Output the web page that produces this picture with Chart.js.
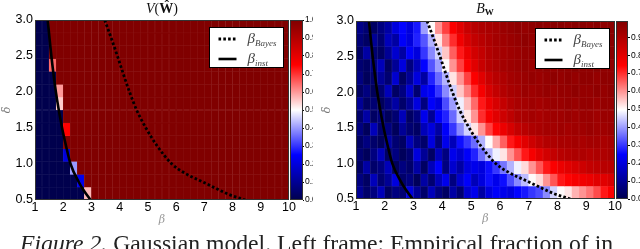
<!DOCTYPE html>
<html><head><meta charset="utf-8">
<script src="https://cdn.jsdelivr.net/npm/chart.js@4.4.1/dist/chart.umd.min.js"></script>
<style>
html,body{margin:0;padding:0;background:#fff;}
#wrap{position:relative;width:640px;height:249px;overflow:hidden;background:#fff;}
canvas{position:absolute;}
.ttl{position:absolute;font-family:'Liberation Serif',serif;font-size:14px;color:#111;white-space:nowrap;transform:translateX(-50%);line-height:16px;}
.ttl sub{font-family:'Liberation Serif',serif;font-weight:bold;font-size:9px;vertical-align:-2px;}
#cap{position:absolute;left:20px;top:231px;font-family:'Liberation Serif',serif;font-size:23.7px;color:#222;white-space:nowrap;line-height:24px;}
</style></head><body><div id="wrap">
<canvas id="mainL" width="300" height="232" style="left:0;top:0;width:300px;height:232px"></canvas>
<canvas id="cbarL" width="24" height="232" style="left:289px;top:0;width:24px;height:232px"></canvas>
<canvas id="mainR" width="305" height="232" style="left:320px;top:0;width:305px;height:232px"></canvas>
<canvas id="cbarR" width="25" height="232" style="left:615px;top:0;width:25px;height:232px"></canvas>
<div class="ttl" style="left:162px;top:1px"><i>V</i>(<b>Ŵ</b>)</div>
<div class="ttl" style="left:485px;top:1px"><i>B</i><sub>W</sub></div>
<div id="cap"><i>Figure 2.</i> Gaussian model. Left frame: Empirical fraction of in</div>
</div>
<script>
// ---- grid (cell edges) ----
const betaEdges = [1,1.25,1.5,1.75,2,2.25,2.5,2.75,3,3.25,3.5,3.75,4,4.25,4.5,4.75,5,5.25,5.5,5.75,6,6.25,6.5,6.75,7,7.25,7.5,7.75,8,8.25,8.5,8.75,9,9.25,9.5,9.75,10];
const deltaEdges = [0.5,0.679,0.857,1.036,1.214,1.393,1.571,1.75,1.929,2.107,2.286,2.464,2.643,2.821,3.0];

// ---- left frame V(W^) : rows listed from delta=3.0 (top) down to delta=0.5 ----
const vRows = [
[0,0,1,1,1,1,1,1,1,1,1,1,1,1,1,1,1,1,1,1,1,1,1,1,1,1,1,1,1,1,1,1,1,1,1,1],
[0,0,1,1,1,1,1,1,1,1,1,1,1,1,1,1,1,1,1,1,1,1,1,1,1,1,1,1,1,1,1,1,1,1,1,1],
[0,0,1,1,1,1,1,1,1,1,1,1,1,1,1,1,1,1,1,1,1,1,1,1,1,1,1,1,1,1,1,1,1,1,1,1],
[0,0,0.65,1,1,1,1,1,1,1,1,1,1,1,1,1,1,1,1,1,1,1,1,1,1,1,1,1,1,1,1,1,1,1,1,1],
[0,0,0,1,1,1,1,1,1,1,1,1,1,1,1,1,1,1,1,1,1,1,1,1,1,1,1,1,1,1,1,1,1,1,1,1],
[0,0,0,0.6,1,1,1,1,1,1,1,1,1,1,1,1,1,1,1,1,1,1,1,1,1,1,1,1,1,1,1,1,1,1,1,1],
[0,0,0,0.55,1,1,1,1,1,1,1,1,1,1,1,1,1,1,1,1,1,1,1,1,1,1,1,1,1,1,1,1,1,1,1,1],
[0,0,0,0,1,1,1,1,1,1,1,1,1,1,1,1,1,1,1,1,1,1,1,1,1,1,1,1,1,1,1,1,1,1,1,1],
[0,0,0,0,0.75,1,1,1,1,1,1,1,1,1,1,1,1,1,1,1,1,1,1,1,1,1,1,1,1,1,1,1,1,1,1,1],
[0,0,0,0,1,1,1,1,1,1,1,1,1,1,1,1,1,1,1,1,1,1,1,1,1,1,1,1,1,1,1,1,1,1,1,1],
[0,0,0,0,0.2,1,1,1,1,1,1,1,1,1,1,1,1,1,1,1,1,1,1,1,1,1,1,1,1,1,1,1,1,1,1,1],
[0,0,0,0,0,0.4,1,1,1,1,1,1,1,1,1,1,1,1,1,1,1,1,1,1,1,1,1,1,1,1,1,1,1,1,1,1],
[0,0,0,0,0,0,0.22,1,1,1,1,1,1,1,1,1,1,1,1,1,1,1,1,1,1,1,1,1,1,1,1,1,1,1,1,1],
[0,0,0,0,0,0,0,0.57,1,1,1,1,1,1,1,1,1,1,1,1,1,1,1,1,1,1,1,1,1,1,1,1,1,1,1,1]
];

// ---- right frame B_W : rows from delta=3.0 (top) down to delta=0.5 ----
const bRows = [
[.08,.05,.03,.07,.12,.2,.25,.2,.27,.4,.5,.6,.68,.75,.8,.85,.88,.9,.91,.92,.94,.95,.96,.95,.96,.97,.96,.97,.97,.96,.97,.97,.96,.97,.96,.97],
[.06,.03,.1,.05,.15,.12,.24,.2,.28,.33,.42,.52,.62,.7,.77,.82,.86,.88,.9,.92,.93,.94,.95,.96,.95,.96,.97,.96,.97,.97,.96,.97,.97,.96,.97,.97],
[.03,.12,.05,.03,.1,.18,.12,.24,.2,.3,.38,.45,.55,.65,.72,.78,.83,.86,.89,.91,.92,.93,.94,.95,.95,.96,.95,.96,.97,.96,.97,.96,.97,.97,.96,.97],
[.05,.03,.07,.15,.03,.1,.2,.07,.15,.25,.33,.4,.5,.6,.68,.75,.8,.85,.88,.9,.92,.93,.94,.95,.94,.95,.96,.95,.96,.96,.97,.96,.96,.97,.96,.96],
[.07,.02,.04,.1,.05,.18,.03,.1,.2,.12,.28,.35,.42,.52,.6,.68,.75,.8,.85,.88,.9,.92,.93,.94,.95,.94,.95,.96,.95,.96,.95,.96,.96,.95,.96,.96],
[.03,.07,.02,.05,.15,.03,.07,.18,.05,.22,.24,.3,.38,.45,.55,.62,.7,.76,.82,.86,.89,.91,.92,.94,.93,.94,.95,.94,.95,.95,.96,.95,.95,.96,.95,.96],
[.1,.03,.05,.02,.07,.12,.04,.1,.2,.07,.24,.2,.32,.4,.48,.56,.64,.72,.78,.82,.86,.89,.91,.92,.93,.92,.93,.94,.94,.95,.94,.95,.95,.94,.95,.95],
[.04,.12,.03,.07,.02,.05,.15,.03,.07,.22,.1,.24,.28,.35,.45,.52,.6,.7,.76,.8,.84,.87,.9,.91,.92,.91,.92,.93,.93,.94,.93,.94,.94,.93,.94,.94],
[.07,.02,.15,.04,.07,.02,.1,.05,.03,.15,.2,.12,.24,.3,.38,.45,.52,.6,.68,.74,.78,.82,.86,.88,.9,.91,.92,.92,.93,.92,.93,.93,.94,.93,.93,.94],
[.03,.07,.04,.02,.12,.05,.03,.15,.07,.04,.2,.07,.22,.15,.26,.3,.35,.42,.5,.58,.65,.72,.76,.8,.84,.87,.89,.9,.91,.91,.92,.91,.92,.92,.91,.92],
[.05,.02,.07,.15,.03,.07,.02,.05,.2,.1,.03,.15,.07,.22,.18,.24,.28,.35,.42,.48,.52,.6,.66,.72,.76,.8,.83,.86,.88,.89,.9,.9,.89,.9,.9,.91],
[.03,.12,.04,.07,.15,.02,.07,.04,.12,.03,.15,.24,.07,.18,.12,.2,.22,.2,.26,.3,.36,.42,.48,.53,.6,.66,.72,.75,.78,.8,.82,.84,.86,.87,.88,.88],
[.07,.03,.15,.05,.1,.2,.04,.07,.02,.12,.05,.15,.22,.07,.18,.24,.15,.2,.26,.22,.26,.32,.38,.43,.5,.53,.6,.66,.72,.74,.76,.77,.78,.8,.8,.82],
[.1,.04,.07,.15,.03,.07,.05,.2,.1,.04,.15,.07,.03,.12,.05,.18,.22,.12,.2,.24,.22,.2,.25,.27,.3,.32,.38,.45,.5,.52,.57,.6,.63,.67,.72,.75]
];

// ---- threshold curves ----
const bayesDelta = [3.0,2.75,2.5,2.25,2.0,1.75,1.5,1.25,1.0,0.875,0.75,0.665,0.58,0.5];
const bayesBeta  = [3.47,3.7,3.92,4.13,4.35,4.6,4.93,5.33,5.85,6.3,6.95,7.39,7.85,8.45];
const instDelta  = [3.0,2.5,2.0,1.5,1.25,1.0,0.75,0.625,0.5];
const instBeta   = [1.45,1.58,1.74,1.96,2.1,2.26,2.55,2.74,2.97];

// colorbar ranges
const vMaxL = 1.0, vMaxR = 0.99;

// ---- seismic colormap ----
const cmap = [[0,0,77],[0,0,255],[255,255,255],[255,0,0],[128,0,0]];
function seismicRGB(t){
  t = Math.max(0, Math.min(1, t));
  const p = t*4, i = Math.min(3, Math.floor(p)), f = p - i;
  const a = cmap[i], b = cmap[i+1];
  return [0,1,2].map(k => a[k] + (b[k]-a[k])*f);
}
function seismic(t){ return 'rgb(' + seismicRGB(t).map(Math.round).join(',') + ')'; }
function seismicEdge(t){ return 'rgb(' + seismicRGB(t).map(c => Math.round(c + (255 - c)*0.1)).join(',') + ')'; }

const tickFont = {family:'Liberation Sans', size:12.5};
const colLabels = betaEdges.slice(0,-1).map(String);

const framePlugin = {
  id:'frame',
  afterDatasetsDraw(chart){
    const {ctx, chartArea:a} = chart;
    ctx.save();
    ctx.strokeStyle = '#333'; ctx.lineWidth = 1;
    ctx.strokeRect(Math.round(a.left)+0.5, Math.round(a.top)+0.5, Math.round(a.right-a.left)-1, Math.round(a.bottom-a.top)-1);
    ctx.restore();
  }
};

const legendPlugin = {
  id:'boxLegend',
  afterDraw(chart){
    const {ctx, chartArea:a} = chart;
    const lines = chart.data.datasets.filter(d => d.type === 'line');
    const bx = Math.round(a.right - 80) + 0.5, by = Math.round(a.top + 7) + 0.5, bw = 74, bh = 40;
    ctx.save();
    ctx.fillStyle = '#fff'; ctx.fillRect(bx, by, bw, bh);
    ctx.strokeStyle = '#000'; ctx.lineWidth = 1; ctx.strokeRect(bx, by, bw, bh);
    lines.forEach((d, i) => {
      const y = by + 11.5 + i*20;
      ctx.strokeStyle = d.borderColor; ctx.lineWidth = d.borderWidth; ctx.lineCap = 'butt';
      ctx.setLineDash(d.borderDash || []);
      ctx.beginPath(); ctx.moveTo(bx + 9, y); ctx.lineTo(bx + 27, y); ctx.stroke();
      ctx.setLineDash([]);
      const parts = d.label.split('_');
      ctx.fillStyle = '#444'; ctx.textBaseline = 'alphabetic';
      ctx.font = 'italic 15px "Liberation Serif"';
      ctx.fillText(parts[0], bx + 38, y + 4);
      const w = ctx.measureText(parts[0]).width;
      ctx.font = 'italic 9px "Liberation Serif"';
      ctx.fillText(parts[1], bx + 38 + w, y + 6.5);
    });
    ctx.restore();
  }
};

function lineDs(label, xs, ys, dash){
  return {type:'line', label, xAxisID:'x', yAxisID:'y',
    data: xs.map((b, i) => ({x:b, y:ys[i]})),
    borderColor:'#000', borderWidth: dash.length ? 2.8 : 2.6, borderDash: dash,
    pointRadius:0, fill:false, cubicInterpolationMode:'monotone', order:0};
}

function heatPanel(id, rows, vmax, padding, yWidth){
  const n = rows.length;
  const datasets = rows.map((row, t) => ({
    type:'bar', xAxisID:'xc', yAxisID:'y',
    data: row.map(() => [deltaEdges[n-1-t], deltaEdges[n-t]]),
    backgroundColor: row.map(v => seismic(v / vmax)),
    borderColor: row.map(v => seismicEdge(v / vmax)),
    borderWidth:0.5, borderSkipped:false,
    barPercentage:1, categoryPercentage:1, grouped:false, order:5
  }));
  datasets.push(lineDs('β_Bayes', bayesBeta, bayesDelta, [2.6, 2.2]));
  datasets.push(lineDs('β_inst', instBeta, instDelta, []));
  new Chart(document.getElementById(id), {
    type:'bar',
    data:{labels: colLabels, datasets},
    options:{
      responsive:false, animation:false, events:[],
      layout:{padding},
      plugins:{legend:{display:false}, tooltip:{enabled:false}},
      scales:{
        xc:{type:'category', display:false, offset:true},
        x:{type:'linear', position:'bottom', min:1, max:10, offset:false,
           afterFit:s => { s.height = 30; },
           grid:{display:false, drawTicks:false}, border:{display:false},
           ticks:{stepSize:1, padding:0, color:'#000', font:tickFont, maxRotation:0, autoSkip:false},
           title:{display:true, text:'β', color:'#999', font:{family:'DejaVu Serif', style:'italic', size:11}, padding:{top:0, bottom:3}}},
        y:{type:'linear', min:0.5, max:3,
           afterFit:s => { s.width = yWidth; },
           grid:{display:false, drawTicks:false}, border:{display:false},
           ticks:{stepSize:0.5, padding:2, color:'#000', font:tickFont, callback:v => v.toFixed(1)},
           title:{display:true, text:'δ', color:'#777', font:{family:'DejaVu Serif', style:'italic', size:11}, padding:{top:1, bottom:0}}}
      }
    },
    plugins:[framePlugin, legendPlugin]
  });
}

function colorbar(id, vmax, padding, axisWidth, tickLen){
  new Chart(document.getElementById(id), {
    type:'bar',
    data:{labels:[''], datasets:[{
      data:[[0, vmax]],
      backgroundColor: c => {
        const ch = c.chart, ys = ch.scales.y;
        if (!ch.chartArea || !ys) return '#fff';
        const g = ch.ctx.createLinearGradient(0, ys.getPixelForValue(0), 0, ys.getPixelForValue(vmax));
        cmap.forEach((col, i) => g.addColorStop(i/4, 'rgb(' + col.join(',') + ')'));
        return g;
      },
      borderWidth:0, barPercentage:1, categoryPercentage:1
    }]},
    options:{
      responsive:false, animation:false, events:[],
      layout:{padding},
      plugins:{legend:{display:false}, tooltip:{enabled:false}},
      scales:{
        x:{display:false},
        y:{position:'right', min:0, max:vmax,
           afterFit:s => { s.width = axisWidth; },
           grid:{drawOnChartArea:false, drawTicks:true, tickLength:tickLen, color:'#000'},
           border:{display:false},
           ticks:{stepSize:0.1, includeBounds:false, padding:1, color:'#000', font:{family:'Liberation Sans', size:8.5}, callback:v => v.toFixed(1)}}
      }
    },
    plugins:[framePlugin]
  });
}

heatPanel('mainL', vRows, vMaxL, {top:20, right:11, bottom:2, left:0}, 35);
colorbar('cbarL', vMaxL, {top:20, right:0, bottom:32, left:1}, 10, 1);
heatPanel('mainR', bRows, vMaxR, {top:21, right:10, bottom:3, left:0}, 36);
colorbar('cbarR', vMaxR, {top:21, right:0, bottom:33, left:1}, 12, 2);
</script>
</body></html>
